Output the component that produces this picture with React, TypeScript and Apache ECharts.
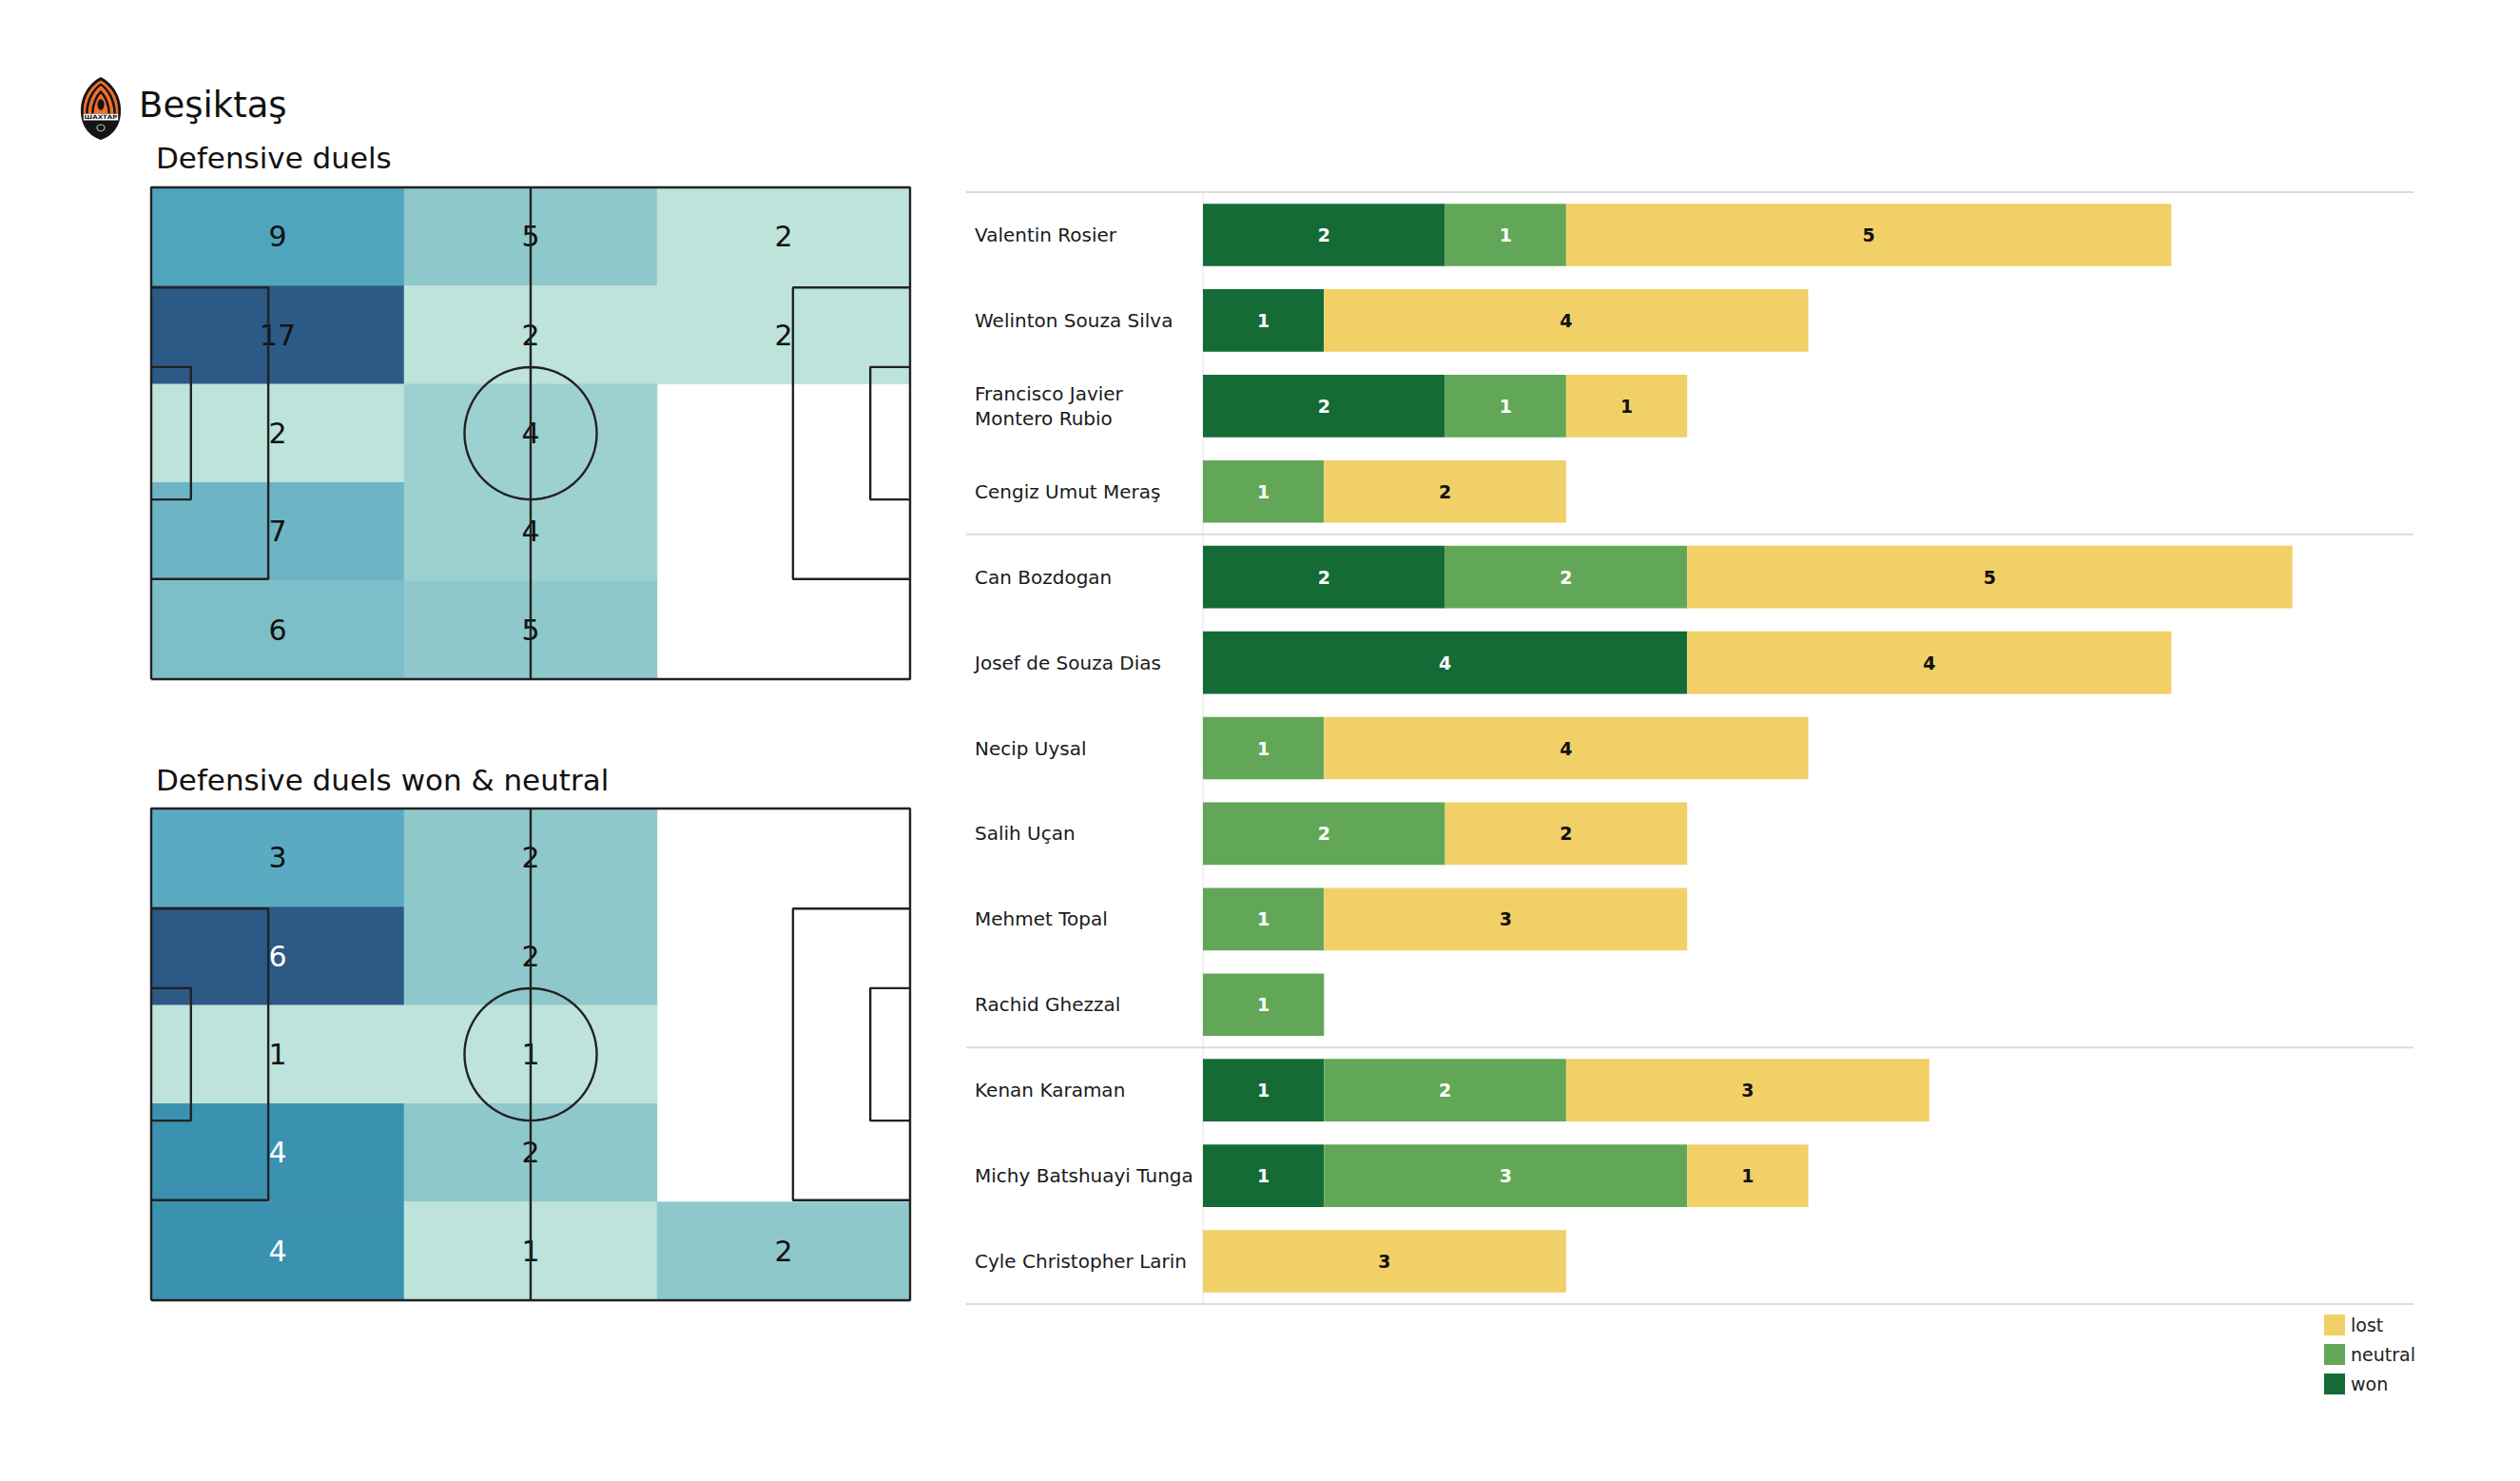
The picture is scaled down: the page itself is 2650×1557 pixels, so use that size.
import React, { useEffect, useRef } from 'react';
import * as echarts from 'echarts';

// ---------- data ----------
const TEAM = 'Beşiktaş';
const TITLE_TOP = 'Defensive duels';
const TITLE_BOTTOM = 'Defensive duels won & neutral';

// zone grids: 5 rows (top -> bottom) x 3 columns (left -> right)
const ZONE_COLS = ['z0', 'z1', 'z2'];
const ZONE_ROWS = ['r0', 'r1', 'r2', 'r3', 'r4'];
const DUELS_ALL = [
  [9, 5, 2],
  [17, 2, 2],
  [2, 4, 0],
  [7, 4, 0],
  [6, 5, 0],
];
const DUELS_WON_NEUTRAL = [
  [3, 2, 0],
  [6, 2, 0],
  [1, 1, 0],
  [4, 2, 0],
  [4, 1, 2],
];

const PLAYERS = [
  'Valentin Rosier',
  'Welinton Souza Silva',
  'Francisco Javier\nMontero Rubio',
  'Cengiz Umut Meraş',
  'Can Bozdogan',
  'Josef de Souza Dias',
  'Necip Uysal',
  'Salih Uçan',
  'Mehmet Topal',
  'Rachid Ghezzal',
  'Kenan Karaman',
  'Michy Batshuayi Tunga',
  'Cyle Christopher Larin',
];
const WON = [2, 1, 2, 0, 2, 4, 0, 0, 0, 0, 1, 1, 0];
const NEUTRAL = [1, 0, 1, 1, 2, 0, 1, 2, 1, 1, 2, 3, 0];
const LOST = [5, 4, 1, 2, 5, 4, 4, 2, 3, 0, 3, 1, 3];
const GROUP_SIZES = [4, 6, 3];
const X_MAX = 10;
const LEGEND_ORDER = ['lost', 'neutral', 'won'];

// ---------- style / layout ----------
const FONT = 'DejaVu Sans';
const W = 2650;
const H = 1557;
const HEAT_COLORS = ['#bde3da', '#a5d5d3', '#8ec8cb', '#75bac6', '#5aabc2', '#4ba0bc', '#3a91b0', '#3581a8', '#31719c', '#2e6590', '#2c5985'];
const PITCH_LEFT = 159;
const PITCH_W = 798;
const PITCH_H = 517;
const PITCH_TOPS = [197, 850];
const LINE_COLOR = '#222222';
const BAR_LEFT = 1265;
const BAR_TOP = 202;
const BAR_W = 1273;
const BAR_H = 1169;
const LABEL_X = 1025;
const SEP_LEFT = 1016;
const COLORS = { won: '#146b36', neutral: '#62a757', lost: '#f2d068' };

// ---------- logo shapes ----------
echarts.graphic.registerShape(
  'logoOuter',
  echarts.graphic.extendPath('M0,-34 C10,-28 18,-14 18,2 C18,20 10,30 0,34 C-10,30 -18,20 -18,2 C-18,-14 -10,-28 0,-34 Z', {})
);
echarts.graphic.registerShape(
  'logoTop',
  echarts.graphic.extendPath('M0,-30.5 C8.5,-25 15.5,-13 15.6,2 L15.6,6 L-15.6,6 L-15.6,2 C-15.5,-13 -8.5,-25 0,-30.5 Z', {})
);
echarts.graphic.registerShape(
  'logoFlames',
  echarts.graphic.extendPath('M-12.5,6 C-12.5,-10 -6,-21 0,-26 C6,-21 12.5,-10 12.5,6 M-7.5,6 C-7.5,-5 -3.5,-14 0,-18 C3.5,-14 7.5,-5 7.5,6', {})
);

function pitchLines(): number[][][] {
  const L = 105;
  const Wd = 68;
  const pb1 = (Wd - 40.32) / 2;
  const pb2 = Wd - pb1;
  const ga1 = (Wd - 18.32) / 2;
  const ga2 = Wd - ga1;
  const circle: number[][] = [];
  for (let i = 0; i <= 72; i++) {
    const a = (i / 72) * Math.PI * 2;
    circle.push([L / 2 + 9.15 * Math.cos(a), Wd / 2 + 9.15 * Math.sin(a)]);
  }
  return [
    [[0, 0], [L, 0], [L, Wd], [0, Wd], [0, 0]],
    [[L / 2, 0], [L / 2, Wd]],
    [[0, pb1], [16.2, pb1], [16.2, pb2], [0, pb2]],
    [[L, pb1], [L - 16.2, pb1], [L - 16.2, pb2], [L, pb2]],
    [[0, ga1], [5.5, ga1], [5.5, ga2], [0, ga2]],
    [[L, ga1], [L - 5.5, ga1], [L - 5.5, ga2], [L, ga2]],
    circle,
  ];
}

function buildOption() {
  const grids: any[] = [];
  const xAxes: any[] = [];
  const yAxes: any[] = [];
  const series: any[] = [];
  const visualMaps: any[] = [];

  const panels = [
    { matrix: DUELS_ALL, whiteFrom: Infinity },
    { matrix: DUELS_WON_NEUTRAL, whiteFrom: 4 },
  ];

  panels.forEach((p, pi) => {
    const top = PITCH_TOPS[pi];
    const heatIdx = pi * 2;
    const lineIdx = pi * 2 + 1;
    grids.push({ left: PITCH_LEFT, top, width: PITCH_W, height: PITCH_H });
    grids.push({ left: PITCH_LEFT, top, width: PITCH_W, height: PITCH_H });
    xAxes.push({ type: 'category', gridIndex: heatIdx, data: ZONE_COLS, show: false });
    yAxes.push({ type: 'category', gridIndex: heatIdx, data: ZONE_ROWS, inverse: true, show: false });
    xAxes.push({ type: 'value', gridIndex: lineIdx, min: 0, max: 105, show: false });
    yAxes.push({ type: 'value', gridIndex: lineIdx, min: 0, max: 68, show: false });

    const data: any[] = [];
    let mn = Infinity;
    let mx = -Infinity;
    p.matrix.forEach((row, r) =>
      row.forEach((v, c) => {
        if (v > 0) {
          mn = Math.min(mn, v);
          mx = Math.max(mx, v);
          data.push({ value: [c, r, v], label: { color: v >= p.whiteFrom ? '#ffffff' : '#111111' } });
        }
      })
    );
    visualMaps.push({
      type: 'continuous',
      show: false,
      seriesIndex: series.length,
      dimension: 2,
      min: mn,
      max: mx,
      inRange: { color: HEAT_COLORS },
    });
    series.push({
      type: 'heatmap',
      xAxisIndex: heatIdx,
      yAxisIndex: heatIdx,
      data,
      silent: true,
      z: 1,
      itemStyle: { borderWidth: 0 },
      emphasis: { disabled: true },
      label: {
        show: true,
        fontSize: 30,
        fontFamily: FONT,
        formatter: (q: any) => String(q.value[2]),
      },
    });
    pitchLines().forEach((pts) => {
      series.push({
        type: 'line',
        xAxisIndex: lineIdx,
        yAxisIndex: lineIdx,
        data: pts,
        symbol: 'none',
        silent: true,
        clip: false,
        z: 5,
        lineStyle: { color: LINE_COLOR, width: 2.4 },
      });
    });
  });

  // bar chart grid
  const barGrid = grids.length;
  grids.push({ left: BAR_LEFT, top: BAR_TOP, width: BAR_W, height: BAR_H });
  xAxes.push({ type: 'value', gridIndex: barGrid, min: 0, max: X_MAX, show: false });
  yAxes.push({
    type: 'category',
    gridIndex: barGrid,
    data: PLAYERS,
    inverse: true,
    axisTick: { show: false },
    splitLine: { show: false },
    axisLine: { show: true, lineStyle: { color: '#ededed', width: 1.5 } },
    axisLabel: {
      align: 'left',
      margin: BAR_LEFT - LABEL_X,
      fontSize: 20,
      lineHeight: 26,
      fontFamily: FONT,
      color: '#1a1a1a',
    },
  });
  const barDefs: [string, number[], string, string][] = [
    ['won', WON, COLORS.won, '#ffffff'],
    ['neutral', NEUTRAL, COLORS.neutral, '#ffffff'],
    ['lost', LOST, COLORS.lost, '#111111'],
  ];
  barDefs.forEach(([name, vals, color, lc]) => {
    series.push({
      type: 'bar',
      name,
      stack: 'duels',
      xAxisIndex: barGrid,
      yAxisIndex: barGrid,
      data: vals,
      barWidth: '73%',
      itemStyle: { color },
      emphasis: { disabled: true },
      label: {
        show: true,
        position: 'inside',
        color: lc,
        fontSize: 19,
        fontWeight: 'bold',
        fontFamily: FONT,
        formatter: (q: any) => (q.value ? String(q.value) : ''),
      },
    });
  });

  // graphics: titles, logo, separators
  const band = BAR_H / PLAYERS.length;
  const sepIdx = [0];
  GROUP_SIZES.forEach((g) => sepIdx.push(sepIdx[sepIdx.length - 1] + g));
  const separators = sepIdx.map((k) => ({
    type: 'line',
    z: 10,
    silent: true,
    shape: { x1: SEP_LEFT, y1: BAR_TOP + k * band, x2: BAR_LEFT + BAR_W, y2: BAR_TOP + k * band },
    style: { stroke: '#dcdcdc', lineWidth: 2 },
  }));

  const logo = {
    type: 'group',
    x: 106,
    y: 114,
    scaleX: 1.17,
    scaleY: 0.97,
    silent: true,
    children: [
      { type: 'logoOuter', style: { fill: '#151515' } },
      { type: 'logoTop', style: { fill: '#f0702a' } },
      { type: 'logoFlames', style: { fill: 'none', stroke: '#151515', lineWidth: 2.2 } },
      { type: 'ellipse', shape: { cx: 0, cy: -4, rx: 3, ry: 6 }, style: { fill: '#151515' } },
      { type: 'rect', shape: { x: -15.6, y: 6, width: 31.2, height: 7 }, style: { fill: '#ffffff' } },
      {
        type: 'text',
        x: 0,
        y: 9.6,
        style: { text: 'ШАХТАР', fontSize: 6, fontWeight: 'bold', fontFamily: FONT, fill: '#151515', align: 'center', verticalAlign: 'middle' },
      },
      { type: 'circle', shape: { cx: 0, cy: 21, r: 3.5 }, style: { fill: 'none', stroke: '#bbbbbb', lineWidth: 1 } },
    ],
  };

  const texts = [
    { type: 'text', x: 146, y: 110, style: { text: TEAM, fontSize: 37, fontFamily: FONT, fill: '#111111', verticalAlign: 'middle' } },
    { type: 'text', x: 164, y: 166, style: { text: TITLE_TOP, fontSize: 31, fontFamily: FONT, fill: '#111111', verticalAlign: 'middle' } },
    { type: 'text', x: 164, y: 820, style: { text: TITLE_BOTTOM, fontSize: 31, fontFamily: FONT, fill: '#111111', verticalAlign: 'middle' } },
  ];

  return {
    animation: false,
    backgroundColor: '#ffffff',
    grid: grids,
    xAxis: xAxes,
    yAxis: yAxes,
    visualMap: visualMaps,
    legend: {
      orient: 'vertical',
      left: 2439,
      top: 1377,
      itemWidth: 22,
      itemHeight: 22,
      itemGap: 9,
      icon: 'rect',
      selectedMode: false,
      data: LEGEND_ORDER,
      textStyle: { fontSize: 19, fontFamily: FONT, color: '#222222', padding: [0, 0, 0, 1] },
    },
    graphic: [...texts, logo, ...separators],
    series,
  };
}

export default function App() {
  const ref = useRef<HTMLDivElement>(null);
  useEffect(() => {
    document.body.style.margin = '0';
    if (!ref.current) return;
    const chart = echarts.init(ref.current, null, { renderer: 'svg', width: W, height: H });
    chart.setOption(buildOption() as any);
    return () => chart.dispose();
  }, []);
  return <div ref={ref} style={{ width: W, height: H }} />;
}
